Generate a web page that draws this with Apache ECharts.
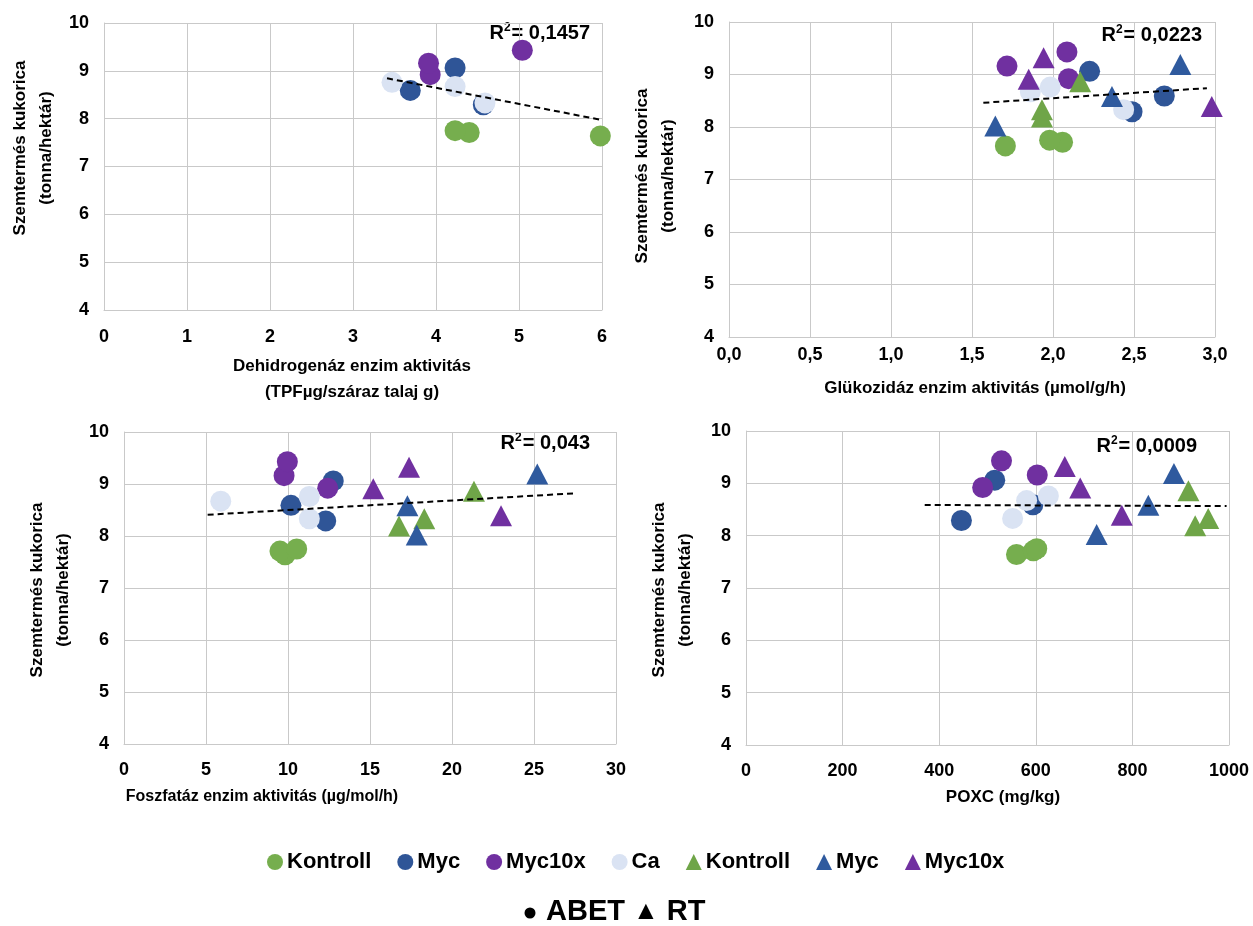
<!DOCTYPE html>
<html><head><meta charset="utf-8">
<script src="https://cdn.jsdelivr.net/npm/echarts@6/dist/echarts.min.js"></script>
<style>html,body{margin:0;padding:0;background:#fff}#c{width:1253px;height:926px}</style>
</head><body><div id="c"></div>
<script>
// ---- yields (Szemtermés kukorica, tonna/hektár), same plots in every panel ----
const yKontrollABET = [7.64, 7.71, 7.75];
const yMycABET      = [8.29, 8.59, 9.06];
const yMyc10xABET   = [8.92, 9.16, 9.43];
const yCaABET       = [8.33, 8.67, 8.76];
const yKontrollRT   = [8.19, 8.33, 8.86];
const yMycRT        = [8.02, 8.58, 9.19];
const yMyc10xRT     = [8.39, 8.91, 9.32];

// ---- Dehidrogenáz (TPFµg/száraz talaj g) ----
const dhKontrollABET = [5.98, 4.40, 4.23];
const dhMycABET      = [4.57, 3.69, 4.23];
const dhMyc10xABET   = [3.93, 3.91, 5.04];
const dhCaABET       = [4.59, 4.23, 3.47];

// ---- Glükozidáz (µmol/g/h) ----
const gkKontrollABET = [1.706, 2.059, 1.979];
const gkMycABET      = [2.488, 2.687, 2.226];
const gkMyc10xABET   = [2.096, 1.716, 2.086];
const gkCaABET       = [2.436, 1.86, 1.983];
const gkKontrollRT   = [1.932, 1.932, 2.168];
const gkMycRT        = [1.644, 2.364, 2.786];
const gkMyc10xRT     = [2.98, 1.85, 1.942];

// ---- Foszfatáz (µg/mol/h) ----
const fsKontrollABET = [9.82, 9.51, 10.53];
const fsMycABET      = [12.3, 10.18, 12.76];
const fsMyc10xABET   = [12.42, 9.76, 9.96];
const fsCaABET       = [11.3, 5.9, 11.3];
const fsKontrollRT   = [16.77, 18.31, 21.34];
const fsMycRT        = [17.85, 17.28, 25.2];
const fsMyc10xRT     = [22.99, 15.2, 17.38];

// ---- POXC (mg/kg) ----
const pxKontrollABET = [560, 595, 602];
const pxMycABET      = [446, 594, 515];
const pxMyc10xABET   = [490, 603, 529];
const pxCaABET       = [552, 581, 626];
const pxKontrollRT   = [930, 957, 916];
const pxMycRT        = [726, 833, 886];
const pxMyc10xRT     = [778, 692, 660];

// ---- trendline extents (x range of each Excel trendline) and R² values ----
const trendDh = [3.41, 5.99];
const trendGk = [1.57, 2.95];
const trendFs = [5.1, 27.6];
const trendPx = [370, 995];
const r2Values = ['0,1457', '0,0223', '0,043', '0,0009'];

// ---- axis labels ----
const yTitle = 'Szemtermés kukorica\n(tonna/hektár)';
const xTitles = ['Dehidrogenáz enzim aktivitás\n(TPFµg/száraz talaj g)', 'Glükozidáz enzim aktivitás (µmol/g/h)', 'Foszfatáz enzim aktivitás (µg/mol/h)', 'POXC (mg/kg)'];
const groupNames = ['Kontroll', 'Myc', 'Myc10x', 'Ca', 'Kontroll', 'Myc', 'Myc10x'];
const groupSuffix = ['ABET', 'ABET', 'ABET', 'ABET', 'RT', 'RT', 'RT'];

// ---------------- build ----------------
const FONT = "'Liberation Sans', Arial, sans-serif";
const colors = ['#76AE4E', '#2F5597', '#7030A0', '#DAE3F3', '#6FA548', '#2F5A9E', '#7030A0'];
const yields = [yKontrollABET, yMycABET, yMyc10xABET, yCaABET, yKontrollRT, yMycRT, yMyc10xRT];
const panelX = [
  [dhKontrollABET, dhMycABET, dhMyc10xABET, dhCaABET, null, null, null],
  [gkKontrollABET, gkMycABET, gkMyc10xABET, gkCaABET, gkKontrollRT, gkMycRT, gkMyc10xRT],
  [fsKontrollABET, fsMycABET, fsMyc10xABET, fsCaABET, fsKontrollRT, fsMycRT, fsMyc10xRT],
  [pxKontrollABET, pxMycABET, pxMyc10xABET, pxCaABET, pxKontrollRT, pxMycRT, pxMyc10xRT]
];
const trends = [trendDh, trendGk, trendFs, trendPx];

const grids = [
  {left: 104, top: 23, width: 498, height: 287},
  {left: 729, top: 22, width: 486, height: 315},
  {left: 124, top: 432, width: 492, height: 312},
  {left: 746, top: 431, width: 483, height: 314}
];
const xMax = [6, 3, 30, 1000];
const xInt = [1, 0.5, 5, 200];
const xLabelMargin = [18, 9, 17, 17];

const gridColor = '#C9C9C9';
const labelStyle = {color: '#000', fontWeight: 'bold', fontSize: 18, fontFamily: FONT};

const xAxes = grids.map((g, i) => ({
  type: 'value', gridIndex: i, min: 0, max: xMax[i], interval: xInt[i],
  axisLine: {show: true, lineStyle: {color: gridColor, width: 1}},
  axisTick: {show: false},
  splitLine: {show: true, lineStyle: {color: gridColor, width: 1}},
  axisLabel: Object.assign({margin: xLabelMargin[i],
    formatter: i === 1 ? (v => v.toFixed(1).replace('.', ',')) : (v => String(v))}, labelStyle)
}));
const yAxes = grids.map((g, i) => ({
  type: 'value', gridIndex: i, min: 4, max: 10, interval: 1,
  axisLine: {show: true, lineStyle: {color: gridColor, width: 1}},
  axisTick: {show: false},
  splitLine: {show: true, lineStyle: {color: gridColor, width: 1}},
  axisLabel: Object.assign({margin: 15}, labelStyle)
}));

const series = [];
panelX.forEach((xs, p) => {
  xs.forEach((arr, g) => {
    if (!arr) return;
    const tri = g >= 4;
    series.push({
      type: 'scatter', name: groupNames[g] + '|' + groupSuffix[g],
      xAxisIndex: p, yAxisIndex: p,
      symbol: tri ? 'triangle' : 'circle',
      symbolSize: tri ? [22, 21] : 21,
      itemStyle: {color: colors[g], opacity: 1},
      data: arr.map((x, k) => [x, yields[g][k]])
    });
  });
});
// linear trendlines computed from the plotted points
panelX.forEach((xs, p) => {
  const pts = [];
  xs.forEach((arr, g) => { if (arr) arr.forEach((x, k) => pts.push([x, yields[g][k]])); });
  const n = pts.length;
  const mx = pts.reduce((s, q) => s + q[0], 0) / n;
  const my = pts.reduce((s, q) => s + q[1], 0) / n;
  let sxy = 0, sxx = 0;
  pts.forEach(q => { sxy += (q[0] - mx) * (q[1] - my); sxx += (q[0] - mx) * (q[0] - mx); });
  const b = sxy / sxx, a = my - b * mx;
  series.push({
    type: 'line', name: 'trend' + p, xAxisIndex: p, yAxisIndex: p,
    symbol: 'none', silent: true, z: 5,
    lineStyle: {color: '#000', width: 2, type: [6, 4]},
    data: trends[p].map(x => [x, a + b * x])
  });
});

const graphics = [];
// y-axis titles
const yTitlePos = [[33, 148], [655, 176], [50, 590], [672, 590]];
yTitlePos.forEach(pos => graphics.push({
  type: 'text', x: pos[0], y: pos[1], rotation: Math.PI / 2,
  style: {text: yTitle, font: 'bold 17px ' + FONT, fill: '#000', textAlign: 'center', textVerticalAlign: 'middle', lineHeight: 26}
}));
// x-axis titles
const xTitlePos = [[352, 379], [975, 388], [262, 797], [1003, 797]];
const xTitleSize = [17, 17, 16, 17];
xTitlePos.forEach((pos, i) => graphics.push({
  type: 'text', x: pos[0], y: pos[1],
  style: {text: xTitles[i], font: 'bold ' + xTitleSize[i] + 'px ' + FONT, fill: '#000', textAlign: 'center', textVerticalAlign: 'middle', lineHeight: 26}
}));
// R² labels
const r2Pos = [[590, 33], [1202, 35], [590, 443], [1197, 446]];
r2Pos.forEach((pos, i) => graphics.push({
  type: 'text', x: pos[0], y: pos[1],
  style: {
    text: 'R{s|2}= ' + r2Values[i], font: 'bold 20px ' + FONT, fill: '#000',
    textAlign: 'right', textVerticalAlign: 'middle',
    rich: {s: {fontSize: 12, fontWeight: 'bold', fontFamily: FONT, padding: [0, 1, 10, 0]}}
  }
}));
// ABET / RT key
graphics.push({
  type: 'circle', shape: {cx: 530, cy: 913, r: 5.5}, style: {fill: '#000'}
});
graphics.push({
  type: 'text', x: 546, y: 912,
  style: {
    text: 'ABET {t|▲} RT', fill: '#000', textAlign: 'left', textVerticalAlign: 'middle',
    font: 'bold 29px ' + FONT,
    rich: {t: {fontSize: 26, fontFamily: FONT, fontWeight: 'bold'}}
  }
});

const legendData = groupNames.map((n, g) => ({name: n + '|' + groupSuffix[g], icon: g >= 4 ? 'triangle' : 'circle'}));

const chart = echarts.init(document.getElementById('c'), null, {renderer: 'canvas'});
chart.setOption({
  animation: false,
  backgroundColor: '#fff',
  grid: grids,
  xAxis: xAxes,
  yAxis: yAxes,
  legend: {
    data: legendData, left: 262, top: 846, itemWidth: 16, itemHeight: 16, itemGap: 26,
    selectedMode: false,
    formatter: n => n.split('|')[0],
    textStyle: {color: '#000', fontWeight: 'bold', fontSize: 22, fontFamily: FONT, padding: [0, 0, 0, -1]}
  },
  series: series,
  graphic: graphics
});
</script>
</body></html>
